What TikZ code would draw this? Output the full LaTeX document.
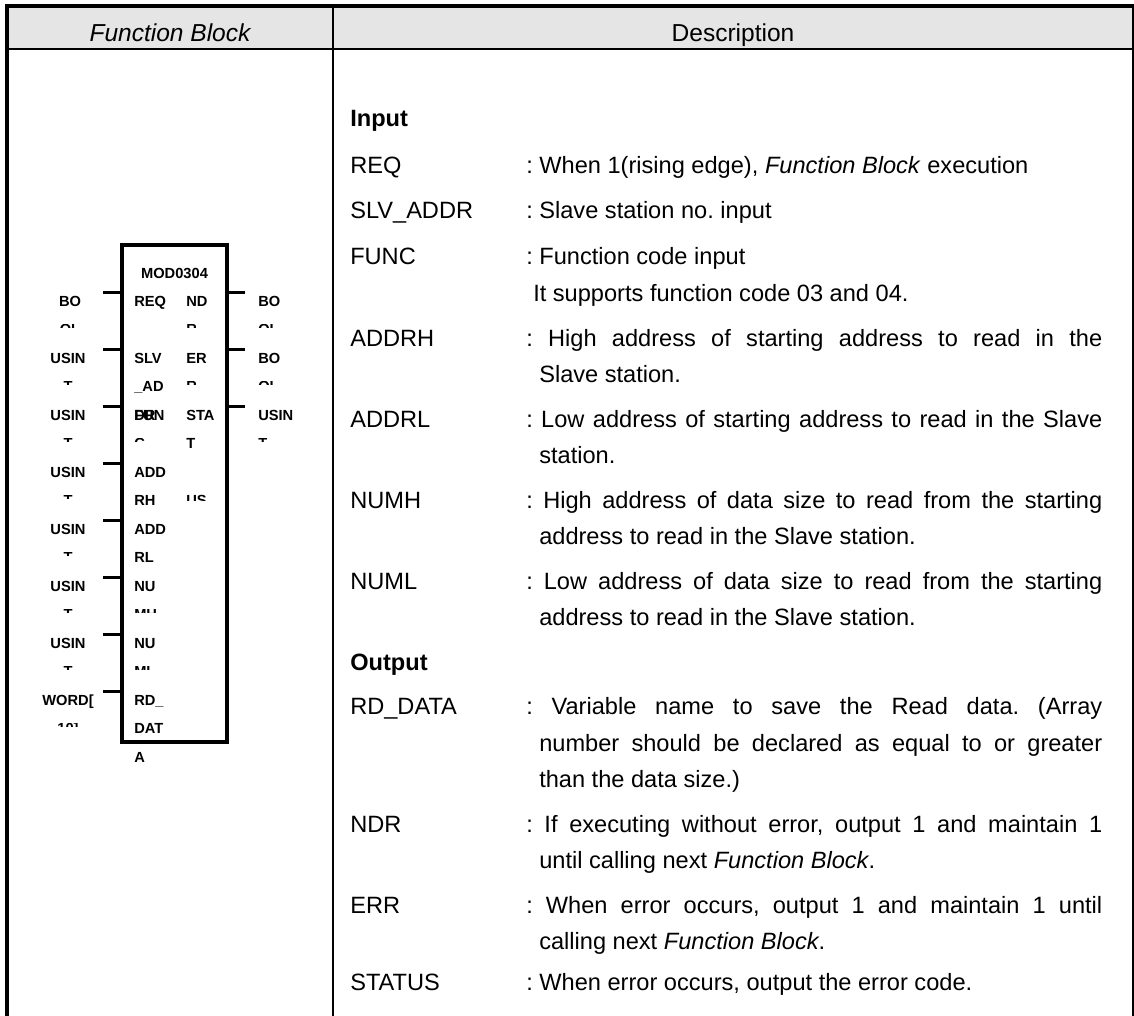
\documentclass[tikz,border=0pt]{standalone}
\usepackage{fontspec}
\setmainfont{Liberation Sans}
\frenchspacing
\newlength\wcolon \setlength\wcolon{432pt}
\newlength\wcont  \setlength\wcont{422.25pt}
\newcommand\jcolon[1]{\makebox[\wcolon][s]{#1}}
\newcommand\jcont[1]{\makebox[\wcont][s]{#1}}
% a pin label line whose box cuts it: only the strip between #3 and #4 shows
\newcommand\cutpin[5]{\begin{scope}\clip (#1-2,#3) rectangle (#1+70,#4);\node[pin] at (#1,#2) {#5};\end{scope}}
% the same for a centred type label
\newcommand\cuttype[5]{\begin{scope}\clip (#1-40,#3) rectangle (#1+40,#4);\node[pin,anchor=base] at (#1,#2) {#5};\end{scope}}
\begin{document}
\begin{tikzpicture}[x=0.75pt,y=-0.75pt,
  txt/.style={font=\fontsize{17.7}{22}\selectfont,inner sep=0pt,anchor=base west},
  hdr/.style={font=\fontsize{18.4}{22}\selectfont,inner sep=0pt,anchor=base},
  pin/.style={font=\bfseries\fontsize{11}{13}\selectfont,inner sep=0pt,anchor=base west},
  typ/.style={pin,anchor=base},
  wire/.style={line width=2.2pt},
  frame/.style={line width=2.4pt},
  thin/.style={line width=1.1pt}]
\useasboundingbox (0,0) rectangle (1134,1016);

% table frame and header band
\fill[gray!20] (7,6) rectangle (1133,49);
\draw[frame] (5.5,6) -- (1133.5,6);
\draw[line width=1.8pt] (7,49) -- (1133,49);
\draw[frame] (7,4.5) -- (7,1016);
\draw[thin] (333,6) -- (333,1016);
\draw[thin] (1132.8,6) -- (1132.8,1016);
\node[hdr] (hfb) at (170,41.5) {\itshape Function Block};
\node[hdr] (hds) at (733,41.5) {Description};

% function block body and pins
\draw[line width=2.6pt] (122,245) rectangle (227,742);
\node[pin,anchor=base] (fbname) at (174.5,278.5) {MOD0304};
\foreach \k in {0,...,7} \draw[wire] (103,{292.5+57*\k}) -- (122,{292.5+57*\k});
\foreach \k in {0,1,2} \draw[wire] (227,{292.5+57*\k}) -- (245,{292.5+57*\k});

% input types
\node[typ] (t0) at (70,306.25) {BO};   \cuttype{70}{334.75}{324}{327.3}{OL}
\foreach \k/\n in {1/t1,2/t2,3/t3,4/t4,5/t5,6/t6}{
  \node[typ] (\n) at (68,{306.25+57*\k}) {USIN};
  \cuttype{68}{334.75+57*\k}{324+57*\k}{327.3+57*\k}{T}}
\node[typ] (t7) at (68,705.25) {WORD[};  \cuttype{68}{733.75}{723}{726.3}{10]}

% output types
\node[pin] (o0) at (258,306.25) {BO};  \cutpin{258}{334.75}{324}{327.3}{OL}
\node[pin] (o1) at (258,363.25) {BO};  \cutpin{258}{391.75}{381}{384.3}{OL}
\node[pin] (o2) at (258,420.25) {USIN}; \cutpin{258}{448.75}{438}{441.3}{T}

% input pin names inside the block
\node[pin] (pREQ) at (134,306.25) {REQ};
\node[pin] (pSLV) at (134,363.25) {SLV};
\node[pin] (pSLV2) at (134,391.75) {\_AD};
\node[pin] (pSLV3) at (134,420.25) {DR};
\node[pin] (pFUN) at (134,420.25) {FUN};
\cutpin{134}{448.75}{438}{441.3}{C}
\node[pin] (pAH) at (134,477.25) {ADD};
\node[pin] (pAH2) at (134,505.75) {RH};
\node[pin] (pAL) at (134,534.25) {ADD};
\node[pin] (pAL2) at (134,562.75) {RL};
\node[pin] (pNH) at (134,591.25) {NU};
\cutpin{134}{619.75}{609}{612.3}{MH}
\node[pin] (pNL) at (134,648.25) {NU};
\cutpin{134}{676.75}{666}{669.3}{ML}
\node[pin] (pRD) at (134,705.25) {RD\_};
\node[pin] (pRD2) at (134,733.75) {DAT};
\node[pin] (pRD3) at (134,762.25) {A};

% output pin names inside the block
\node[pin] (qND) at (186,306.25) {ND};  \cutpin{186}{334.75}{324}{327.3}{R}
\node[pin] (qER) at (186,363.25) {ER};  \cutpin{186}{391.75}{381}{384.3}{R}
\node[pin] (qST) at (186,420.25) {STA};
\node[pin] (qST2) at (186,448.75) {T};
\cutpin{186}{505.75}{494}{500.5}{US}

% description column
\node[txt] (sIn) at (350,126.5) {\bfseries Input};
\node[txt] (lREQ) at (350,173.8) {REQ};
\node[txt] (dREQ) at (526,173.8) {: When 1(rising edge), \textit{Function Block} execution};
\node[txt] (lSLV) at (350,219) {SLV\_ADDR};
\node[txt] (dSLV) at (526,219) {: Slave station no. input};
\node[txt] (lFUN) at (350,264.5) {FUNC};
\node[txt] (dFUN) at (526,264.5) {: Function code input};
\node[txt] (cFUN) at (533,301) {It supports function code 03 and 04.};
\node[txt] (lAH) at (350,346) {ADDRH};
\node[txt] (dAH) at (526,346) {\jcolon{: High address of starting address to read in the}};
\node[txt] (cAH) at (539,382.5) {Slave station.};
\node[txt] (lAL) at (350,427) {ADDRL};
\node[txt] (dAL) at (526,427) {\jcolon{: Low address of starting address to read in the Slave}};
\node[txt] (cAL) at (539,463.5) {station.};
\node[txt] (lNH) at (350,508) {NUMH};
\node[txt] (dNH) at (526,508) {\jcolon{: High address of data size to read from the starting}};
\node[txt] (cNH) at (539,544.5) {address to read in the Slave station.};
\node[txt] (lNL) at (350,589) {NUML};
\node[txt] (dNL) at (526,589) {\jcolon{: Low address of data size to read from the starting}};
\node[txt] (cNL) at (539,625.5) {address to read in the Slave station.};
\node[txt] (sOut) at (350,670) {\bfseries Output};
\node[txt] (lRD) at (350,714.5) {RD\_DATA};
\node[txt] (dRD) at (526,714.5) {\jcolon{: Variable name to save the Read data. (Array}};
\node[txt] (cRD) at (539,751) {\jcont{number should be declared as equal to or greater}};
\node[txt] (cRD2) at (539,787.5) {than the data size.)};
\node[txt] (lND) at (350,832) {NDR};
\node[txt] (dND) at (526,832) {\jcolon{: If executing without error, output 1 and maintain 1}};
\node[txt] (cND) at (539,868.5) {until calling next \textit{Function Block}.};
\node[txt] (lER) at (350,913) {ERR};
\node[txt] (dER) at (526,913) {\jcolon{: When error occurs, output 1 and maintain 1 until}};
\node[txt] (cER) at (539,949.5) {calling next \textit{Function Block}.};
\node[txt] (lST) at (350,990) {STATUS};
\node[txt] (dST) at (526,990) {: When error occurs, output the error code.};
\end{tikzpicture}
\end{document}
